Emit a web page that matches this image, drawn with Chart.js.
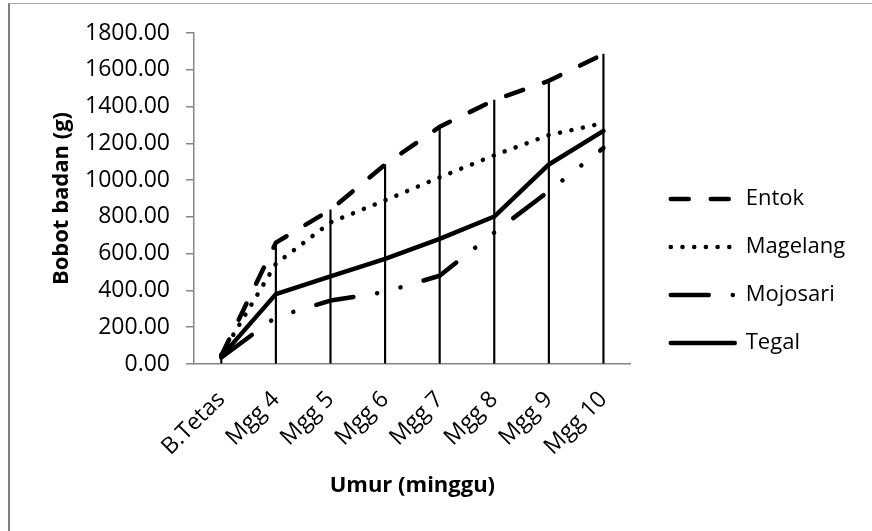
<!DOCTYPE html>
<html>
<head>
<meta charset="utf-8">
<script src="https://cdn.jsdelivr.net/npm/chart.js@4.4.1/dist/chart.umd.min.js"></script>
<style>
  html, body { margin: 0; padding: 0; background: #fff; overflow: hidden; }
  #frame { position: absolute; left: 8px; top: 3px; width: 900px; height: 600px;
           border-left: 2px solid #7f7f7f; border-top: 1px solid #a6a6a6; }
  #wrap { position: absolute; left: 0; top: 0; width: 872px; height: 531px; }
</style>
</head>
<body>
<div id="frame"></div>
<div id="wrap"><canvas id="c" width="872" height="531"></canvas></div>
<script>
const categories = ['B.Tetas', 'Mgg 4', 'Mgg 5', 'Mgg 6', 'Mgg 7', 'Mgg 8', 'Mgg 9', 'Mgg 10'];
const entok    = [45, 660, 838, 1085, 1290, 1435, 1540, 1685];
const magelang = [50, 545, 770, 890, 1015, 1135, 1245, 1310];
const mojosari = [35, 255, 345, 392, 480, 715, 940, 1175];
const tegal    = [40, 380, 477, 572, 680, 802, 1085, 1268];
const yTicks   = [0, 200, 400, 600, 800, 1000, 1200, 1400, 1600, 1800];

const FONT = "'Open Sans', 'Liberation Sans', sans-serif";
const AXIS_GRAY = '#868686';

function lineSet(label, data, dash) {
  return {
    type: 'line', label, data,
    borderColor: '#000', backgroundColor: '#000',
    borderWidth: 4.5, borderDash: dash,
    borderCapStyle: 'round', borderJoinStyle: 'round',
    pointRadius: 0, pointHoverRadius: 0, tension: 0, fill: false, order: 1
  };
}

// keeps the legend a fixed gap to the right of the plot
const legendGap = {
  id: 'legendGap',
  afterLayout(chart) {
    const l = chart.legend;
    if (!l) return;
    l.left = chart.chartArea.right + 14;
    l.right = chart.width;
    l.width = l.right - l.left;
  }
};

new Chart(document.getElementById('c'), {
  data: {
    labels: categories,
    datasets: [
      lineSet('Entok', entok, [18, 22]),
      lineSet('Magelang', magelang, [0.1, 11.6]),
      lineSet('Mojosari', mojosari, [38, 24, 0.1, 24, 0.1, 24]),
      lineSet('Tegal', tegal, []),
      { type: 'bar', label: 'drop', data: entok, backgroundColor: '#000',
        barThickness: 1.5, order: 10 }
    ]
  },
  plugins: [legendGap],
  options: {
    responsive: false, animation: false, devicePixelRatio: 1,
    layout: { padding: { left: 0, top: 33, bottom: 22, right: 31 } },
    plugins: {
      tooltip: { enabled: false },
      legend: {
        position: 'right', align: 'center',
        labels: {
          usePointStyle: true, pointStyle: 'line', pointStyleWidth: 64,
          padding: 26, color: '#000',
          font: { family: FONT, size: 22 },
          generateLabels: (chart) => {
            const items = Chart.defaults.plugins.legend.labels.generateLabels(chart);
            return items.filter(i => i.datasetIndex < 4).map(i => {
              const ds = chart.data.datasets[i.datasetIndex];
              return Object.assign({}, i, {
                lineDash: ds.borderDash, lineWidth: ds.borderWidth,
                lineCap: 'round', strokeStyle: '#000', fillStyle: '#000',
                pointStyle: 'line', fontColor: '#000'
              });
            });
          }
        }
      }
    },
    scales: {
      x: {
        type: 'category', offset: true,
        grid: { display: false, drawTicks: false },
        border: { display: true, color: AXIS_GRAY, width: 1.5 },
        ticks: { color: '#000', font: { family: FONT, size: 23 },
                 maxRotation: 45, minRotation: 45, autoSkip: false, padding: 22 },
        title: { display: true, text: 'Umur (minggu)', color: '#000',
                 font: { family: FONT, size: 22, weight: 'bold' },
                 padding: { top: 0, bottom: 10 } },
        afterFit: (s) => { s.height = 145; }
      },
      y: {
        type: 'linear', min: 0, max: 1800,
        afterBuildTicks: (s) => { s.ticks = yTicks.map(v => ({ value: v })); },
        grid: { drawOnChartArea: false, drawTicks: true, tickLength: 8, color: AXIS_GRAY, lineWidth: 1.5 },
        border: { display: true, color: AXIS_GRAY, width: 1.5 },
        ticks: { color: '#000', font: { family: FONT, size: 23 }, padding: 16,
                 callback: (v) => Number(v).toFixed(2) },
        title: { display: true, text: 'Bobot badan (g)', color: '#000',
                 font: { family: FONT, size: 22, weight: 'bold' },
                 padding: { top: 49, bottom: 0 } },
        afterFit: (s) => { s.width = 194; }
      }
    }
  }
});
</script>
</body>
</html>
